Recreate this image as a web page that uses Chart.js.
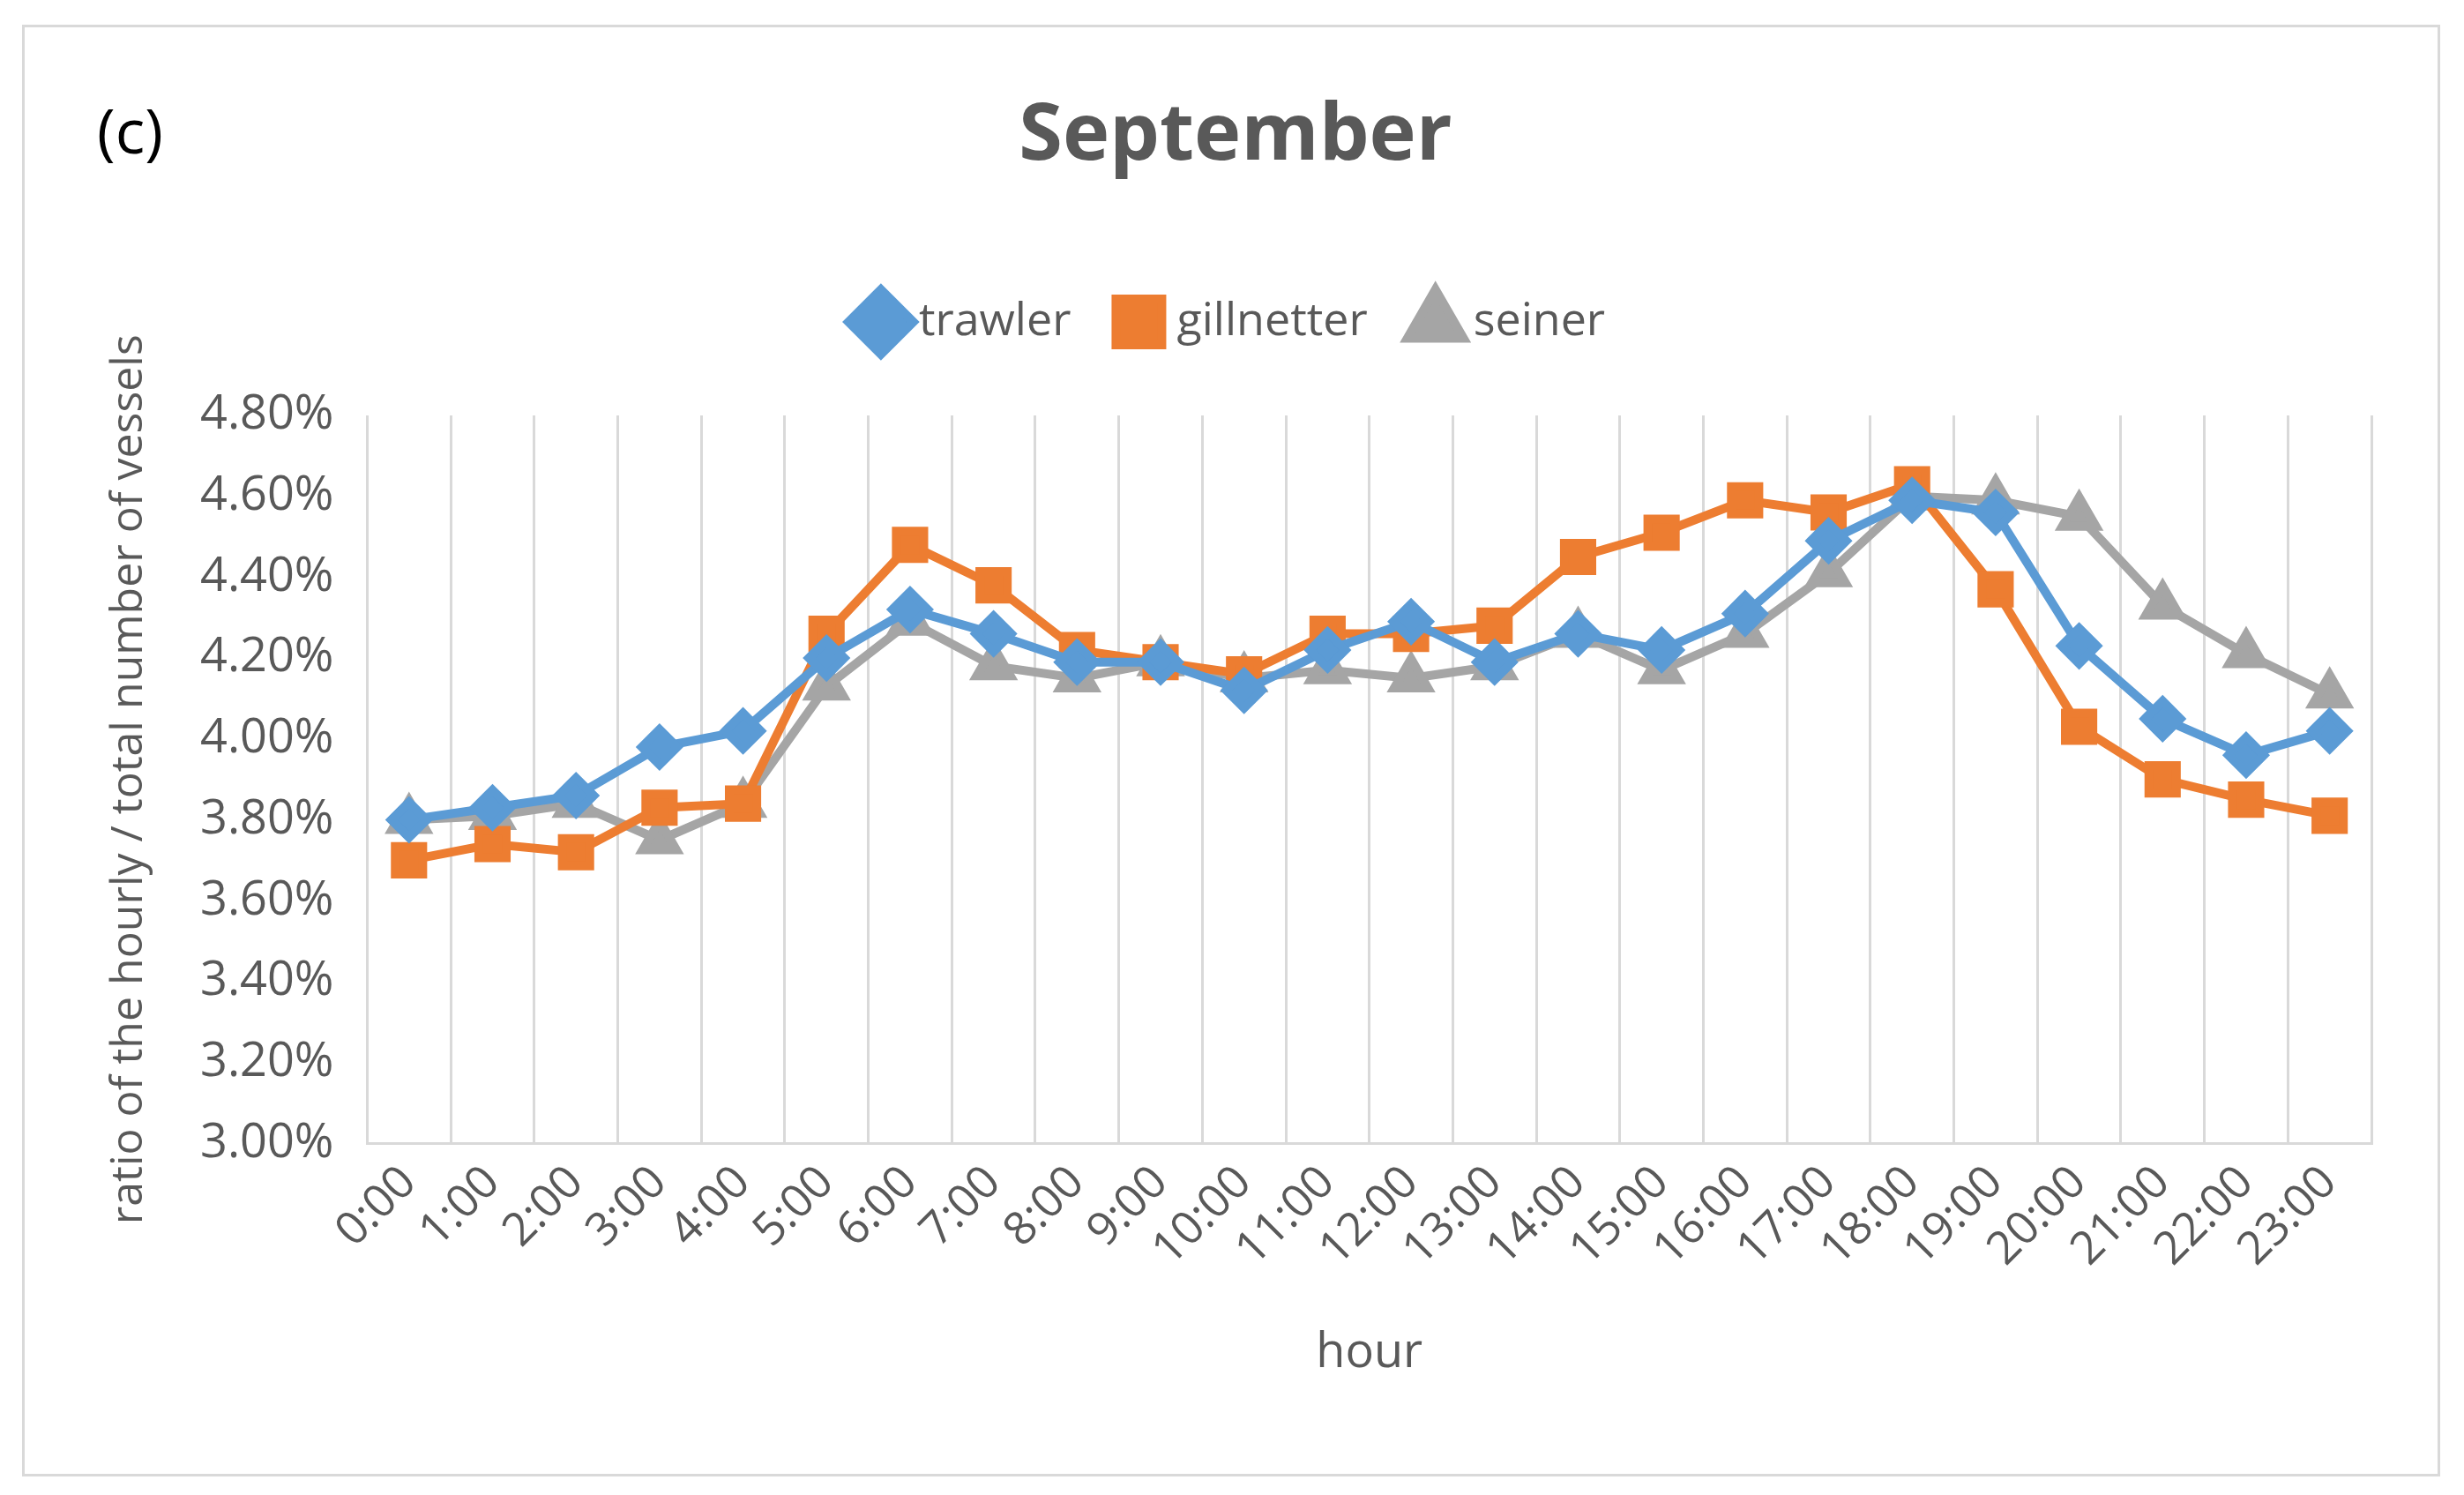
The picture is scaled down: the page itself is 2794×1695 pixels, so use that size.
<!DOCTYPE html>
<html>
<head>
<meta charset="utf-8">
<script src="https://cdn.jsdelivr.net/npm/chart.js@4.4.1/dist/chart.umd.min.js"></script>
<style>
  html, body { margin: 0; padding: 0; background: #fff; }
  #frame { position: absolute; left: 25px; top: 28px; width: 2736px; height: 1640px; border: 3px solid #d9d9d9; }
  #frame canvas { width: 100%; height: 100%; }
</style>
</head>
<body>
<div id="frame"><canvas id="c"></canvas></div>
<script>
// hourly share of vessels, September
const hours = ['0:00','1:00','2:00','3:00','4:00','5:00','6:00','7:00','8:00','9:00','10:00','11:00',
	'12:00','13:00','14:00','15:00','16:00','17:00','18:00','19:00','20:00','21:00','22:00','23:00'];
const trawler = [3.80, 3.83, 3.86, 3.98, 4.02, 4.20, 4.32, 4.26, 4.19, 4.19, 4.12, 4.22,
	4.29, 4.19, 4.26, 4.22, 4.31, 4.49, 4.59, 4.56, 4.23, 4.05, 3.96, 4.02];
const gillnetter = [3.70, 3.74, 3.72, 3.83, 3.84, 4.26, 4.48, 4.38, 4.22, 4.19, 4.16, 4.26,
	4.26, 4.28, 4.45, 4.51, 4.59, 4.56, 4.63, 4.37, 4.03, 3.90, 3.85, 3.81];
const seiner = [3.80, 3.81, 3.84, 3.75, 3.84, 4.13, 4.29, 4.18, 4.15, 4.19, 4.15, 4.17,
	4.15, 4.18, 4.26, 4.17, 4.26, 4.41, 4.60, 4.59, 4.55, 4.33, 4.21, 4.11];
const yTicks = [3.0, 3.2, 3.4, 3.6, 3.8, 4.0, 4.2, 4.4, 4.6, 4.8];

const FONT = '"Open Sans", "Noto Sans", sans-serif';
const TEXT = '#595959';
const GRID = '#d9d9d9';

function series(label, data, color, style, r) {
	return {
		label, data,
		borderColor: color, backgroundColor: color,
		borderWidth: 10, pointStyle: style, pointRadius: r, pointHoverRadius: r,
		tension: 0,
	};
}

// "(c)" panel tag + extra gap under the legend
const panelTag = {
	id: 'panelTag',
	beforeInit(chart) {
		const fit = chart.legend.fit;
		chart.legend.fit = function () { fit.call(this); this.height += 70; };
	},
	afterDraw(chart) {
		const ctx = chart.ctx;
		ctx.save();
		ctx.font = '70px ' + FONT;
		ctx.fillStyle = '#000';
		ctx.textBaseline = 'top';
		ctx.fillText('(c)', 82, 88);
		ctx.restore();
	},
};

new Chart(document.getElementById('c').getContext('2d'), {
	type: 'line',
	data: {
		labels: hours,
		datasets: [
			series('trawler', trawler, '#5b9bd5', 'rectRot', 20),
			series('gillnetter', gillnetter, '#ed7d31', 'rect', 22),
			series('seiner', seiner, '#a5a5a5', 'triangle', 22),
		],
	},
	options: {
		responsive: true,
		maintainAspectRatio: false,
		animation: false,
		devicePixelRatio: 1,
		layout: { padding: { left: 85, right: 75, top: 70, bottom: 100 } },
		plugins: {
			title: {
				display: true, text: 'September', color: TEXT,
				font: { family: FONT, size: 90, weight: 'bold' },
				padding: { top: 0, bottom: 70 },
			},
			legend: {
				position: 'top',
				labels: {
					color: TEXT, font: { family: FONT, size: 52 },
					usePointStyle: true, boxWidth: 34, padding: 60,
				},
			},
			tooltip: { enabled: false },
		},
		scales: {
			x: {
				offset: true,
				title: { display: true, text: 'hour', color: TEXT, font: { family: FONT, size: 54 }, padding: { top: 40 } },
				ticks: { color: TEXT, font: { family: FONT, size: 52 }, maxRotation: 45, minRotation: 45, autoSkip: false, padding: 14 },
				grid: { display: true, color: GRID, lineWidth: 3, offset: true, drawTicks: false },
				border: { color: GRID, width: 3 },
			},
			y: {
				min: 3.0, max: 4.8,
				afterBuildTicks(axis) { axis.ticks = yTicks.map(v => ({ value: v })); },
				title: { display: true, text: 'ratio of the hourly / total number of vessels', color: TEXT, font: { family: FONT, size: 50 }, padding: { bottom: 20 } },
				ticks: { color: TEXT, font: { family: FONT, size: 54 }, padding: 30, callback(v) { return v.toFixed(2) + '%'; } },
				grid: { display: false },
				border: { display: false },
			},
		},
	},
	plugins: [panelTag],
});
</script>
</body>
</html>
